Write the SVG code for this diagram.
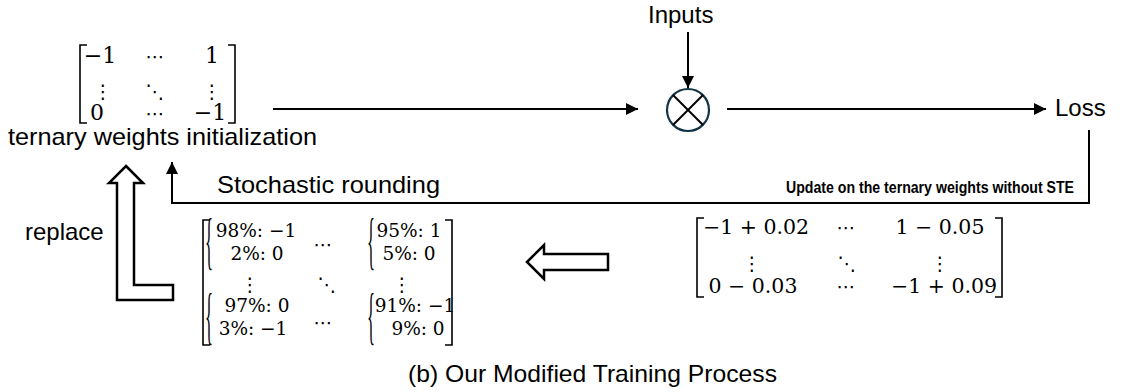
<svg xmlns="http://www.w3.org/2000/svg" width="1130" height="392" viewBox="0 0 1130 392">
<defs>
<marker id="ah" markerWidth="13" markerHeight="12" refX="12" refY="6" orient="auto" markerUnits="userSpaceOnUse"><path d="M0,0 L12,6 L0,12 z" fill="#000"/></marker>
<style>
.s{font-family:"Liberation Sans",Arial,sans-serif;font-size:24px;fill:#000}
.b{font-family:"Liberation Sans",Arial,sans-serif;font-size:16.5px;font-weight:bold;fill:#000}
.m{font-family:"DejaVu Serif","Liberation Serif",serif;fill:#000;text-anchor:middle}
.d{font-family:"DejaVu Serif","DejaVu Sans",serif;fill:#000;text-anchor:middle;font-size:19px}
.bc{font-family:"Liberation Serif","DejaVu Serif",serif;fill:#000;font-size:24px}
.ln{fill:none;stroke:#000;stroke-width:2}
.br{fill:none;stroke:#000;stroke-width:1.6}
.ha{fill:#fff;stroke:#000;stroke-width:2.5;stroke-linejoin:miter}
</style>
</defs>
<rect width="1130" height="392" fill="#fff"/>

<g id="connectors">
<line class="ln" x1="273" y1="109" x2="638" y2="109" marker-end="url(#ah)"/>
<line class="ln" x1="688" y1="32" x2="688" y2="88" marker-end="url(#ah)"/>
<line class="ln" x1="727" y1="109" x2="1046" y2="109" marker-end="url(#ah)"/>
<polyline class="ln" points="1089,130 1089,203 172,203 172,162" marker-end="url(#ah)"/>
<polygon id="replace-arrow" class="ha" points="126,166 143,183 134,183 134,285 173,285 173,300 117,300 117,183 109,183"/>
<polygon id="left-arrow" class="ha" points="527,262 544,245 544,254 608,254 608,270 544,270 544,279"/>
</g>

<g id="matrix-init">
<polyline class="br" points="87,45 80,45 80,123 87,123"/>
<polyline class="br" points="228,45 235,45 235,123 228,123"/>
<g class="m" font-size="22">
<text x="100" y="63">−1</text>
<text x="212" y="63">1</text>
<text x="97" y="120">0</text>
<text x="210" y="120">−1</text>
</g>
<text class="d" x="155" y="63">⋯</text>
<text class="d" x="103" y="98">⋮</text>
<text class="d" x="155" y="98">⋱</text>
<text class="d" x="212" y="98">⋮</text>
<text class="d" x="155" y="120">⋯</text>
<text class="s" x="8" y="145" textLength="309" lengthAdjust="spacingAndGlyphs">ternary weights initialization</text>
</g>

<g id="inputs"><text class="s" x="648" y="23">Inputs</text></g>

<g id="multiply">
<circle cx="688" cy="110" r="21" fill="none" stroke="#123444" stroke-width="2.2"/>
<line x1="673" y1="95" x2="703" y2="125" stroke="#000" stroke-width="2"/>
<line x1="703" y1="95" x2="673" y2="125" stroke="#000" stroke-width="2"/>
</g>

<g id="loss"><text class="s" x="1055" y="116">Loss</text></g>

<g id="labels">
<text class="b" x="786" y="193" textLength="288" lengthAdjust="spacingAndGlyphs">Update on the ternary weights without STE</text>
<text class="s" x="217" y="193" textLength="223" lengthAdjust="spacingAndGlyphs">Stochastic rounding</text>
<text class="s" x="25" y="240">replace</text>
</g>

<g id="matrix-stochastic">
<polyline class="br" points="210,220 203,220 203,345 210,345"/>
<polyline class="br" points="445,220 452,220 452,345 445,345"/>
<text class="bc" transform="translate(205,262) scale(0.7,2.6)">{</text>
<text class="bc" transform="translate(367,262) scale(0.7,2.6)">{</text>
<text class="bc" transform="translate(205,337) scale(0.7,2.6)">{</text>
<text class="bc" transform="translate(367,337) scale(0.7,2.6)">{</text>
<g class="m" font-size="18.5">
<text x="256" y="237">98%: −1</text>
<text x="257" y="260">2%: 0</text>
<text x="409" y="237">95%: 1</text>
<text x="409" y="260">5%: 0</text>
<text x="257" y="312">97%: 0</text>
<text x="253" y="335">3%: −1</text>
<text x="415" y="312">91%: −1</text>
<text x="418" y="335">9%: 0</text>
</g>
<text class="d" x="323" y="251">⋯</text>
<text class="d" x="250" y="291">⋮</text>
<text class="d" x="327" y="291">⋱</text>
<text class="d" x="402" y="291">⋮</text>
<text class="d" x="323" y="329">⋯</text>
</g>

<g id="matrix-update">
<polyline class="br" points="704,218 697,218 697,297 704,297"/>
<polyline class="br" points="995,218 1002,218 1002,297 995,297"/>
<g class="m" font-size="20.5">
<text x="756" y="234">−1 + 0.02</text>
<text x="940" y="234">1 − 0.05</text>
<text x="753" y="293">0 − 0.03</text>
<text x="944" y="293">−1 + 0.09</text>
</g>
<text class="d" x="846" y="234">⋯</text>
<text class="d" x="752" y="270">⋮</text>
<text class="d" x="847" y="270">⋱</text>
<text class="d" x="940" y="270">⋮</text>
<text class="d" x="846" y="293">⋯</text>
</g>

<g id="caption"><text class="s" x="408" y="382" textLength="369" lengthAdjust="spacingAndGlyphs">(b) Our Modified Training Process</text></g>
</svg>
